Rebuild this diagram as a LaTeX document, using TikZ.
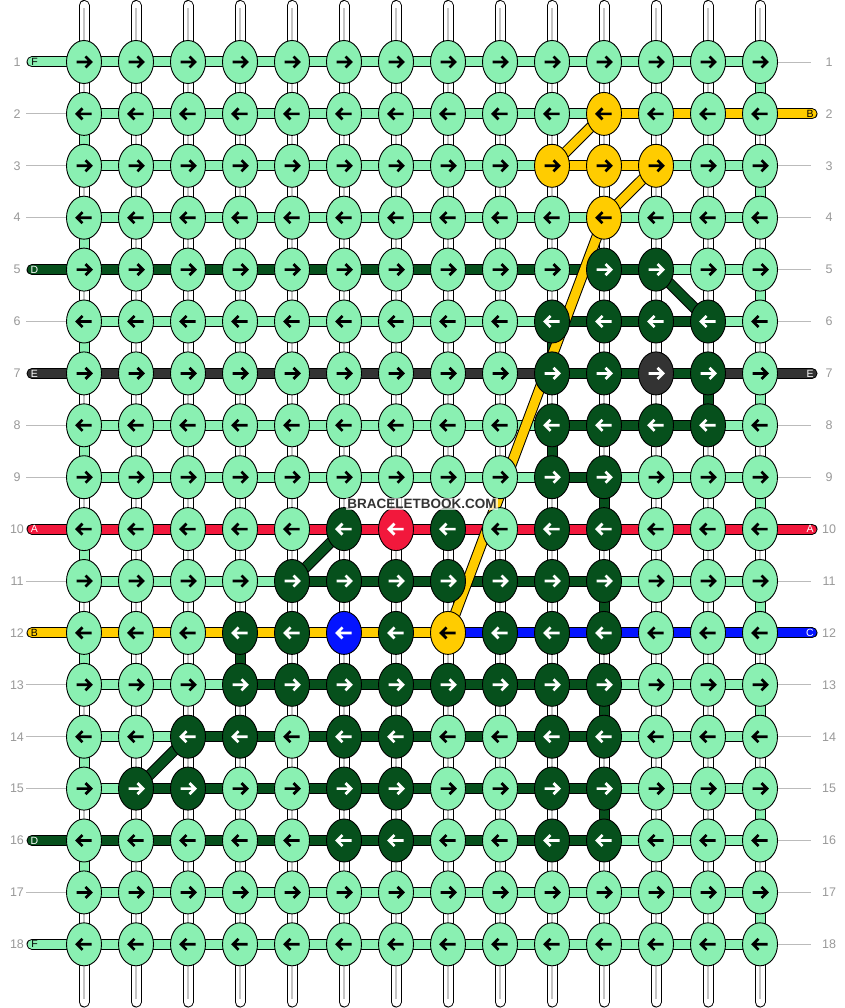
\documentclass[tikz,border=0pt]{standalone}
\usepackage{fontspec}
\setmainfont{Liberation Sans}
\usetikzlibrary{shapes.geometric}
\definecolor{cL}{HTML}{8AF0B2}
\definecolor{cG}{HTML}{06501C}
\definecolor{cY}{HTML}{FFCC00}
\definecolor{cR}{HTML}{F2183C}
\definecolor{cU}{HTML}{0414FF}
\definecolor{cK}{HTML}{333333}
\colorlet{aL}{black}\colorlet{aY}{black}
\colorlet{aG}{white}\colorlet{aR}{white}\colorlet{aU}{white}\colorlet{aK}{white}
\definecolor{labgray}{HTML}{999999}
\definecolor{linegray}{HTML}{BBBBBB}
\definecolor{coregray}{HTML}{C4C4C4}
\tikzset{
  knot/.style={ellipse, draw=black, line width=0.9pt, minimum width=35pt, minimum height=43pt, inner sep=0pt},
  outl/.style={line width=11pt, black},
  strand/.style={line width=9pt},
  rownum/.style={text=labgray, font=\fontsize{12.5}{12.5}\selectfont, inner sep=0pt},
  endlab/.style={font=\fontsize{10.5}{10.5}\selectfont, inner sep=0pt},
  guide/.style={linegray, line width=0.9pt},
  arr/.style={line width=2.7pt, line join=miter, line cap=butt}
}
\begin{document}
\begin{tikzpicture}[x=1pt,y=-1pt]
\fill[white] (0,0) rectangle (844,1008);
\useasboundingbox (0,0) rectangle (844,1008);
% grid coordinates
\foreach \r in {1,...,18}{
  \foreach \c in {1,...,14}{
    \coordinate (p-\r-\c) at ({84+(\c-1)*52},{62+(\r-1)*51.9});
  }
  \coordinate (le-\r) at (32,{62+(\r-1)*51.9});
  \coordinate (re-\r) at (812,{62+(\r-1)*51.9});
  \coordinate (gl-\r) at (26,{62+(\r-1)*51.9});
  \coordinate (gr-\r) at (811,{62+(\r-1)*51.9});
  \node[rownum] (nl-\r) at (17,{62+(\r-1)*51.9}) {\r};
  \node[rownum] (nr-\r) at (829,{62+(\r-1)*51.9}) {\r};
}
% vertical warp strings
\foreach \c in {1,...,14}{
  \coordinate (top-\c) at ({84+(\c-1)*52},5.5);
  \coordinate (bot-\c) at ({84+(\c-1)*52},1002);
  \draw[outl, line cap=round] (top-\c) -- (bot-\c);
  \draw[strand, white, line cap=round] (top-\c) -- (bot-\c);
  \draw[coregray, line width=1.1pt] ([yshift=-3pt]top-\c) -- ([yshift=3pt]bot-\c);
}
% guide lines for rows without end strands
\foreach \r in {2,3,4,6,8,9,11,13,14,15,17}{ \draw[guide] (gl-\r) -- (p-\r-1); }
\foreach \r in {1,3,4,5,6,8,9,11,13,14,15,16,17,18}{ \draw[guide] (p-\r-14) -- (gr-\r); }
% left end strands
\foreach \r/\col/\lab/\tc in {1/L/F/black,5/G/D/white,7/K/E/white,10/R/A/white,12/Y/B/black,16/G/D/white,18/L/F/black}{
  \draw[outl, line cap=round] (le-\r) -- (p-\r-1);
  \draw[strand, c\col, line cap=round] (le-\r) -- (p-\r-1);
  \node[endlab, text=\tc] (ll-\r) at (34.5,{62+(\r-1)*51.9}) {\lab};
}
% right end strands
\foreach \r/\col/\lab/\tc in {2/Y/B/black,7/K/E/white,10/R/A/white,12/U/C/white}{
  \draw[outl, line cap=round] (p-\r-14) -- (re-\r);
  \draw[strand, c\col, line cap=round] (p-\r-14) -- (re-\r);
  \node[endlab, text=\tc] (rl-\r) at (810,{62+(\r-1)*51.9}) {\lab};
}
% horizontal segments
\foreach \r/\segs in {
1/{L,L,L,L,L,L,L,L,L,L,L,L,L},
2/{L,L,L,L,L,L,L,L,L,L,Y,Y,Y},
3/{L,L,L,L,L,L,L,L,L,Y,Y,L,L},
4/{L,L,L,L,L,L,L,L,L,L,L,L,L},
5/{G,G,G,G,G,G,G,G,G,G,G,L,L},
6/{L,L,L,L,L,L,L,L,L,G,G,G,L},
7/{K,K,K,K,K,K,K,K,K,G,G,G,K},
8/{L,L,L,L,L,L,L,L,L,G,G,G,L},
9/{L,L,L,L,L,L,L,L,L,G,L,L,L},
10/{R,R,R,R,R,R,R,R,R,R,R,R,R},
11/{L,L,L,L,G,G,G,G,G,G,L,L,L},
12/{Y,Y,Y,Y,Y,Y,Y,U,U,U,U,U,U},
13/{L,L,L,G,G,G,G,G,G,G,L,L,L},
14/{L,L,G,G,G,G,G,G,G,G,L,L,L},
15/{L,G,G,G,G,G,G,G,G,G,L,L,L},
16/{G,G,G,G,G,G,G,G,G,G,L,L,L},
17/{L,L,L,L,L,L,L,L,L,L,L,L,L},
18/{L,L,L,L,L,L,L,L,L,L,L,L,L}}{
  \foreach \s [count=\i] in \segs {
    \pgfmathtruncatemacro\j{\i+1}
    \draw[outl] (p-\r-\i) -- (p-\r-\j);
    \draw[strand, c\s] (p-\r-\i) -- (p-\r-\j);
  }
}
% vertical turns at the edges (light green)
\foreach \r in {1,3,5,7,9,11,13,15,17}{
  \pgfmathtruncatemacro\rr{\r+1}
  \draw[outl] (p-\r-14) -- (p-\rr-14);
  \draw[strand, cL] (p-\r-14) -- (p-\rr-14);
}
\foreach \r in {2,4,6,8,10,12,14,16}{
  \pgfmathtruncatemacro\rr{\r+1}
  \draw[outl] (p-\r-1) -- (p-\rr-1);
  \draw[strand, cL] (p-\r-1) -- (p-\rr-1);
}
% vertical dark green links
\foreach \c/\r in {10/6,13/7,10/8,11/9,11/11,4/12,11/13,11/15}{
  \pgfmathtruncatemacro\rr{\r+1}
  \draw[outl] (p-\r-\c) -- (p-\rr-\c);
  \draw[strand, cG] (p-\r-\c) -- (p-\rr-\c);
}
% diagonal links
\foreach \ra/\ca/\rb/\cb/\col in {5/12/6/13/G,10/6/11/5/G,14/3/15/2/G,2/11/3/10/Y,3/12/4/11/Y,4/11/12/8/Y}{
  \draw[outl] (p-\ra-\ca) -- (p-\rb-\cb);
  \draw[strand, c\col] (p-\ra-\ca) -- (p-\rb-\cb);
}
% knots
\foreach \r/\ks in {
1/{L,L,L,L,L,L,L,L,L,L,L,L,L,L},
2/{L,L,L,L,L,L,L,L,L,L,Y,L,L,L},
3/{L,L,L,L,L,L,L,L,L,Y,Y,Y,L,L},
4/{L,L,L,L,L,L,L,L,L,L,Y,L,L,L},
5/{L,L,L,L,L,L,L,L,L,L,G,G,L,L},
6/{L,L,L,L,L,L,L,L,L,G,G,G,G,L},
7/{L,L,L,L,L,L,L,L,L,G,G,K,G,L},
8/{L,L,L,L,L,L,L,L,L,G,G,G,G,L},
9/{L,L,L,L,L,L,L,L,L,G,G,L,L,L},
10/{L,L,L,L,L,G,R,G,L,G,G,L,L,L},
11/{L,L,L,L,G,G,G,G,G,G,G,L,L,L},
12/{L,L,L,G,G,U,G,Y,G,G,G,L,L,L},
13/{L,L,L,G,G,G,G,G,G,G,G,L,L,L},
14/{L,L,G,G,L,G,G,L,L,G,G,L,L,L},
15/{L,G,G,L,L,G,G,L,L,G,G,L,L,L},
16/{L,L,L,L,L,G,G,L,L,G,G,L,L,L},
17/{L,L,L,L,L,L,L,L,L,L,L,L,L,L},
18/{L,L,L,L,L,L,L,L,L,L,L,L,L,L}}{
  \pgfmathsetmacro\dir{ifthenelse(mod(\r,2)==1,1,-1)}
  \foreach \k [count=\c] in \ks {
    \node[knot, fill=c\k] (k-\r-\c) at (p-\r-\c) {};
    \draw[arr, a\k, shift={(p-\r-\c)}, xscale=\dir] (-7.5,0) -- (6.5,0) (1.5,-5.5) -- (7,0) -- (1.5,5.5);
  }
}
% watermark
\node[fill=white, fill opacity=0.7, text opacity=1, text=cK, inner sep=1.5pt, font=\bfseries\fontsize{13.5}{13.5}\selectfont] (wm) at (422,504) {BRACELETBOOK.COM};
\end{tikzpicture}
\end{document}
